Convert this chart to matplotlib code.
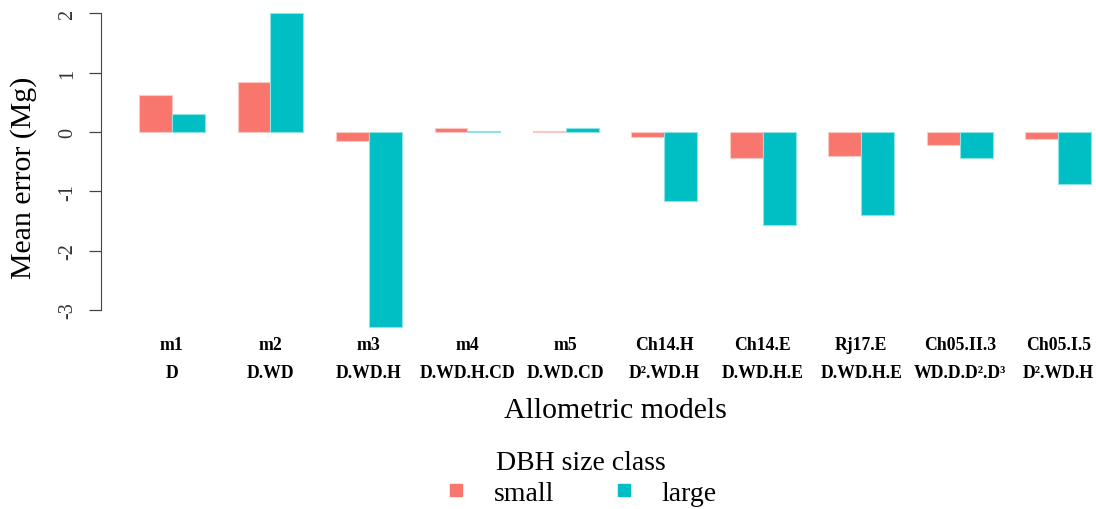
# %% import modules
import numpy as np
import matplotlib.pyplot as plt
from matplotlib.lines import Line2D

# %% Data
models = ["m1", "m2", "m3", "m4", "m5",
          "Ch14.H", "Ch14.E", "Rj17.E", "Ch05.II.3", "Ch05.I.5"]
formulas = ["D", "D.WD", "D.WD.H", "D.WD.H.CD", "D.WD.CD",
            "D\u00b2.WD.H", "D.WD.H.E", "D.WD.H.E", "WD.D.D\u00b2.D\u00b3", "D\u00b2.WD.H"]
err_small = [0.63, 0.85, -0.15, 0.07, 0.02, -0.09, -0.44, -0.40, -0.21, -0.12]
err_large = [0.31, 2.00, -3.28, 0.02, 0.06, -1.16, -1.57, -1.40, -0.43, -0.88]
yticks = [-3, -2, -1, 0, 1, 2]

col_small = "#F8766D"
col_large = "#00BFC4"

plt.rcParams['font.family'] = ['Liberation Serif', 'DejaVu Serif']

# %% Figure
fig = plt.figure(figsize=(10.96, 5.10), dpi=100)
ax = fig.add_axes([101 / 1096, 1 - 340 / 510, 1 - 101 / 1096, 338 / 510])

# R style barplot positions: bars of width 1, one empty bar between groups
x0 = np.arange(len(models)) * 3 + 1
ax.bar(x0, err_small, width=1, align='edge', color=col_small,
       edgecolor='#FBC8C4', linewidth=0.8)
ax.bar(x0 + 1, err_large, width=1, align='edge', color=col_large,
       edgecolor='#8FE3E5', linewidth=0.8)

ax.set_xlim(-0.16, 30.15)
ax.set_ylim(-3.49, 2.21)

# only the left axis line, spanning the tick range
for s in ['top', 'right', 'bottom']:
    ax.spines[s].set_visible(False)
ax.spines['left'].set_bounds(-3, 2)
ax.spines['left'].set_color('#444444')

ax.set_yticks(yticks)
ax.set_yticklabels([str(t) for t in yticks], rotation=90, va='center',
                   fontsize=14.5, color='#333333')
ax.tick_params(axis='y', length=9, width=0.9, pad=8, color='#444444')

ax.set_xticks(x0 + 1)
ax.set_xticklabels([m + "\n" + f for m, f in zip(models, formulas)],
                   fontsize=12.8, fontweight='bold', linespacing=1.8)
ax.tick_params(axis='x', length=0, pad=-2)

ax.set_ylabel("Mean error (Mg)", fontsize=21.5)
ax.yaxis.set_label_coords(-0.064, 0.48)
fig.text(615 / 1096, 1 - 411 / 510, "Allometric models", fontsize=21.5,
         ha='center', va='center')

# %% Legend
handles = [Line2D([], [], ls='none', marker='s', ms=8.5, color=col_small),
           Line2D([], [], ls='none', marker='s', ms=8.5, color=col_large)]
fig.legend(handles, ["small", "large"], title="DBH size class", ncol=2,
           loc='upper center', bbox_to_anchor=(0.530, 1 - 437 / 510),
           frameon=False, fontsize=20, title_fontsize=20,
           handlelength=0.8, handletextpad=0.97, columnspacing=2.1,
           borderpad=0, labelspacing=0.2)

fig.savefig('out.png', dpi=100)
